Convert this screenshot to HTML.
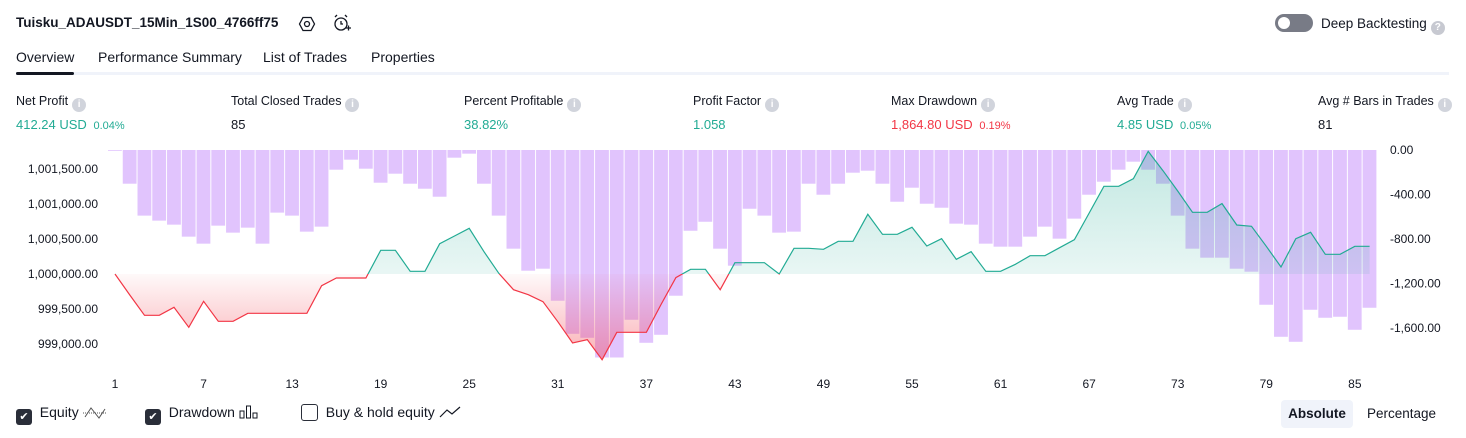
<!DOCTYPE html>
<html><head><meta charset="utf-8">
<style>
body{margin:0;width:1466px;height:438px;background:#fff;font-family:"Liberation Sans",sans-serif;color:#131722;position:relative;overflow:hidden}
.a{position:absolute;white-space:nowrap}
.info{display:inline-block;width:14px;height:14px;border-radius:50%;background:#d1d4dc;color:#fff;font-size:10px;text-align:center;line-height:14px;font-weight:bold;vertical-align:-2px;margin-left:4px}
.lbl{font-size:12.5px;color:#131722}
.val{font-size:13px}
.g{color:#22ab94}.r{color:#f23645}
.small{font-size:11px}
.cb{display:inline-block;width:16px;height:16px;border-radius:3px;background:#2a2e39;color:#fff;font-size:11px;text-align:center;line-height:16px;vertical-align:-3px}
.cbo{display:inline-block;width:15px;height:15px;border-radius:3px;border:1.5px solid #2a2e39;vertical-align:-4px}
</style></head><body>
<div class="a" style="left:16px;top:15px;font-size:13.5px;font-weight:bold">Tuisku_ADAUSDT_15Min_1S00_4766ff75</div>
<svg class="a" style="left:298px;top:15px" width="18" height="18" viewBox="0 0 18 18"><polygon points="5,2.5 13,2.5 16.5,9 13,15.5 5,15.5 1.5,9" fill="none" stroke="#131722" stroke-width="1.3"/><circle cx="9" cy="9" r="2.5" fill="none" stroke="#131722" stroke-width="1.3"/></svg>
<svg class="a" style="left:332px;top:13px" width="20" height="20" viewBox="0 0 20 20"><circle cx="9" cy="11" r="6" fill="none" stroke="#131722" stroke-width="1.3"/><path d="M9 8v3h2M3 4l2-2M15 4l-2-2M14 15h5M16.5 12.5v5" stroke="#131722" stroke-width="1.3" fill="none"/></svg>
<div class="a" style="left:1275px;top:14px;width:38px;height:18px;border-radius:9px;background:#787b86"><div style="position:absolute;left:3px;top:3px;width:12px;height:12px;border-radius:50%;background:#fff"></div></div>
<div class="a" style="left:1321px;top:16px;font-size:13.5px">Deep Backtesting<span class="info" style="background:#c7c9d1">?</span></div>
<div class="a" style="left:16px;top:49px;font-size:14px">Overview</div>
<div class="a" style="left:98px;top:49px;font-size:14px">Performance Summary</div>
<div class="a" style="left:263px;top:49px;font-size:14px">List of Trades</div>
<div class="a" style="left:371px;top:49px;font-size:14px">Properties</div>
<div class="a" style="left:16px;top:72px;width:1433px;height:3px;background:#f0f3fa"></div>
<div class="a" style="left:16px;top:72px;width:58px;height:3px;border-radius:2px;background:#131722"></div>

<div class="a" style="left:16px;top:94px"><div class="lbl">Net Profit<span class="info">i</span></div><div class="val g" style="margin-top:5px">412.24 USD <span class="small">&nbsp;0.04%</span></div></div>
<div class="a" style="left:231px;top:94px"><div class="lbl">Total Closed Trades<span class="info">i</span></div><div class="val" style="margin-top:5px">85</div></div>
<div class="a" style="left:464px;top:94px"><div class="lbl">Percent Profitable<span class="info">i</span></div><div class="val g" style="margin-top:5px">38.82%</div></div>
<div class="a" style="left:693px;top:94px"><div class="lbl">Profit Factor<span class="info">i</span></div><div class="val g" style="margin-top:5px">1.058</div></div>
<div class="a" style="left:891px;top:94px"><div class="lbl">Max Drawdown<span class="info">i</span></div><div class="val r" style="margin-top:5px">1,864.80 USD <span class="small">&nbsp;0.19%</span></div></div>
<div class="a" style="left:1117px;top:94px"><div class="lbl">Avg Trade<span class="info">i</span></div><div class="val g" style="margin-top:5px">4.85 USD <span class="small">&nbsp;0.05%</span></div></div>
<div class="a" style="left:1318px;top:94px"><div class="lbl">Avg # Bars in Trades<span class="info">i</span></div><div class="val" style="margin-top:5px">81</div></div>

<svg id="chart" class="a" style="left:0;top:0" width="1466" height="438"></svg>

<div class="a" style="left:16px;top:404px;font-size:14px"><span class="cb">✔</span>&nbsp; Equity <svg width="24" height="14" style="vertical-align:-2px"><line x1="0" y1="8" x2="24" y2="8" stroke="#555" stroke-dasharray="1,1"/><polyline points="2,12 8,3 12,8 16,13 22,4" fill="none" stroke="#555"/></svg></div>
<div class="a" style="left:145px;top:404px;font-size:14px"><span class="cb">✔</span>&nbsp; Drawdown <svg width="20" height="14" style="vertical-align:-2px"><rect x="1" y="6" width="4" height="7" fill="none" stroke="#131722"/><rect x="7.5" y="1" width="4" height="12" fill="none" stroke="#131722"/><rect x="14" y="8" width="4" height="5" fill="none" stroke="#131722"/></svg></div>
<div class="a" style="left:301px;top:404px;font-size:14px"><span class="cbo"></span>&nbsp; Buy &amp; hold equity <svg width="22" height="12" style="vertical-align:-1px"><polyline points="1,11 8,4 13,8 21,1" fill="none" stroke="#131722" stroke-width="1.2"/></svg></div>
<div class="a" style="left:1281px;top:400px;width:72px;height:28px;border-radius:4px;background:#f0f3fa;font-size:13.5px;font-weight:bold;text-align:center;line-height:28px">Absolute</div>
<div class="a" style="left:1367px;top:406px;font-size:13.5px">Percentage</div>

<script>
const tradeIdx = Array.from({length:86},(_,i)=>i+1);
const equity = [1000000,999700,999410,999410,999524,999238,999610,999324,999324,999439,999439,999439,999439,999439,999833,999943,999943,999943,1000339,1000339,1000039,1000039,1000433,1000543,1000653,1000319,1000010,999776,999704,999604,999319,999014,999062,998776,999167,999167,999167,999566,999948,1000067,1000067,999776,1000161,1000161,1000161,1000000,1000367,1000367,1000353,1000467,1000467,1000853,1000567,1000567,1000667,1000400,1000505,1000210,1000319,1000039,1000039,1000138,1000262,1000262,1000376,1000490,1000871,1001253,1001253,1001362,1001752,1001476,1001186,1000882,1000882,1001005,1000700,1000681,1000395,1000100,1000505,1000596,1000281,1000281,1000395,1000395];
const drawdown = [-6,-303,-590,-635,-671,-779,-842,-680,-743,-698,-842,-563,-590,-734,-689,-177,-87,-168,-294,-213,-303,-348,-420,-69,-33,-303,-590,-887,-1085,-1067,-1355,-1652,-1688,-1865,-1865,-1526,-1733,-1661,-1310,-726,-645,-887,-1040,-528,-590,-743,-734,-303,-402,-303,-204,-186,-303,-465,-339,-483,-519,-662,-671,-842,-869,-869,-779,-689,-797,-617,-402,-285,-177,-105,-177,-303,-590,-887,-968,-968,-1067,-1094,-1391,-1679,-1724,-1436,-1508,-1499,-1616,-1418];
const leftTicks = [1001500,1001000,1000500,1000000,999500,999000];
const rightTicks = [0,-400,-800,-1200,-1600];
const xTicks = [1,7,13,19,25,31,37,43,49,55,61,67,73,79,85];

const NS='http://www.w3.org/2000/svg';
const svg=document.getElementById('chart');
const X=i=>115+(i-1)*14.76;
const BASE=1000000;
const YE=v=>274-(v-BASE)*0.07;
const YD=v=>150-v*44.5/400;
function mk(t,a,p){const e=document.createElementNS(NS,t);for(const k in a)e.setAttribute(k,a[k]);(p||svg).appendChild(e);return e;}
const defs=mk('defs',{});
const y0=YE(BASE);
defs.innerHTML='<linearGradient id="gg" gradientUnits="userSpaceOnUse" x1="0" y1="150" x2="0" y2="'+y0+'"><stop offset="0" stop-color="#22ab94" stop-opacity="0.28"/><stop offset="1" stop-color="#22ab94" stop-opacity="0.1"/></linearGradient><linearGradient id="rg" gradientUnits="userSpaceOnUse" x1="0" y1="'+y0+'" x2="0" y2="360"><stop offset="0" stop-color="#f23645" stop-opacity="0.03"/><stop offset="1" stop-color="#f23645" stop-opacity="0.4"/></linearGradient><clipPath id="ca"><rect x="0" y="0" width="1466" height="'+y0+'"/></clipPath><clipPath id="cb"><rect x="0" y="'+y0+'" width="1466" height="400"/></clipPath>';

drawdown.forEach((d,k)=>{
  const i=tradeIdx[k];
  const b=mk('rect',{x:X(i)-7,y:150,width:13.8,height:Math.max(0.8,YD(d)-150),fill:'#e1c4fd'});
  
  
});
const pts=equity.map((v,k)=>X(tradeIdx[k]).toFixed(1)+','+YE(v).toFixed(1)).join(' ');
const area='M'+X(1)+','+y0+' L'+pts.split(' ').join(' L')+' L'+X(tradeIdx[tradeIdx.length-1])+','+y0+' Z';
const fa=mk('path',{d:area,fill:'url(#gg)','clip-path':'url(#ca)'});


const fb=mk('path',{d:area,fill:'url(#rg)','clip-path':'url(#cb)'});


const la=mk('polyline',{points:pts,fill:'none',stroke:'#22ab94','stroke-width':1.2,'clip-path':'url(#ca)'});


const lb=mk('polyline',{points:pts,fill:'none',stroke:'#f23645','stroke-width':1.2,'clip-path':'url(#cb)'});



leftTicks.forEach(v=>{
  const t=mk('text',{x:98,y:YE(v)+4,'text-anchor':'end','font-size':12,fill:'#131722','font-family':'Liberation Sans, sans-serif'});
  t.textContent=v.toLocaleString('en-US',{minimumFractionDigits:2});
  
  
});
rightTicks.forEach(v=>{
  const t=mk('text',{x:1390,y:YD(v)+4,'font-size':12,fill:'#131722','font-family':'Liberation Sans, sans-serif'});
  t.textContent=v.toLocaleString('en-US',{minimumFractionDigits:2});
  
  
});
xTicks.forEach(v=>{
  const t=mk('text',{x:X(v),y:388,'text-anchor':'middle','font-size':12,fill:'#131722','font-family':'Liberation Sans, sans-serif'});
  t.textContent=v;
  
  
});
</script>
</body></html>
